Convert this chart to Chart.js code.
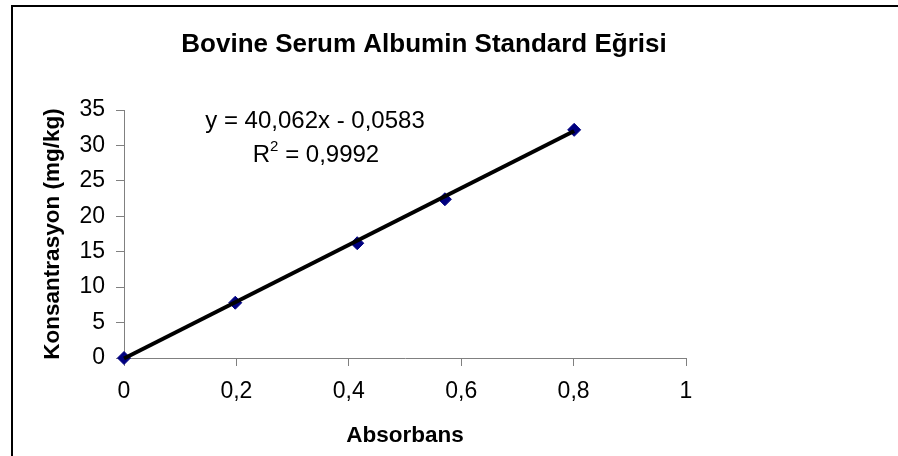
<!DOCTYPE html>
<html>
<head>
<meta charset="utf-8">
<script src="https://cdn.jsdelivr.net/npm/chart.js@4/dist/chart.umd.min.js"></script>
<style>
  html, body { margin: 0; padding: 0; background: #fff; }
  #wrap { width: 898px; height: 456px; }
</style>
</head>
<body>
<div id="wrap"><canvas id="myChart" width="898" height="456"></canvas></div>
<script>
// values
const absorbans = [0, 0.198, 0.415, 0.571, 0.801];
const konsantrasyon = [0, 7.8, 16.2, 22.4, 32.2];
// trendline end points (y = 40,062x - 0,0583)
const trendX = [0, 0.801];
const trendY = [-0.06, 32.03];
const xTickLabels = ['0', '0,2', '0,4', '0,6', '0,8', '1'];
const yTickLabels = ['0', '5', '10', '15', '20', '25', '30', '35'];

const FONT = '"Liberation Sans", Arial, sans-serif';

// frame, title and equation text
const extras = {
    id: 'extras',
    afterDraw(chart) {
        const c = chart.ctx;
        c.save();
        c.strokeStyle = '#000';
        c.lineWidth = 2;
        c.beginPath();
        c.moveTo(12, 456);
        c.lineTo(12, 6);
        c.lineTo(898, 6);
        c.stroke();

        c.fillStyle = '#000';
        c.textAlign = 'center';
        c.textBaseline = 'alphabetic';
        c.font = 'bold 26px ' + FONT;
        c.fillText('Bovine Serum Albumin Standard Eğrisi', 424, 52);

        c.font = '24px ' + FONT;
        c.fillText('y = 40,062x - 0,0583', 315, 128);

        // R² line with superscript
        const p1 = 'R', p2 = '2', p3 = ' = 0,9992';
        c.textAlign = 'left';
        const w1 = c.measureText(p1).width;
        const w3 = c.measureText(p3).width;
        c.font = '15px ' + FONT;
        const w2 = c.measureText(p2).width;
        let x = 316 - (w1 + w2 + w3) / 2;
        c.font = '24px ' + FONT;
        c.fillText(p1, x, 162);
        c.font = '15px ' + FONT;
        c.fillText(p2, x + w1, 151);
        c.font = '24px ' + FONT;
        c.fillText(p3, x + w1 + w2, 162);
        c.restore();
    }
};

const ctx = document.getElementById('myChart').getContext('2d');
const myChart = new Chart(ctx, {
    type: 'scatter',
    data: {
        datasets: [{
            label: 'Trend',
            type: 'line',
            data: trendX.map((v, i) => ({ x: v, y: trendY[i] })),
            borderColor: '#000',
            borderWidth: 4,
            pointRadius: 0,
            fill: false,
            clip: false,
            order: 0
        }, {
            label: 'Konsantrasyon',
            data: absorbans.map((v, i) => ({ x: v, y: konsantrasyon[i] })),
            pointStyle: 'rectRot',
            pointRadius: 6.5,
            backgroundColor: '#000080',
            borderColor: '#000080',
            borderWidth: 1,
            clip: false,
            order: 1
        }]
    },
    options: {
        responsive: false,
        animation: false,
        layout: { padding: { top: 110, right: 212, left: 0, bottom: 0 } },
        plugins: {
            legend: { display: false },
            tooltip: { enabled: false },
            title: { display: false }
        },
        scales: {
            x: {
                type: 'linear',
                min: 0,
                max: 1,
                afterFit: s => { s.height = 98; },
                afterBuildTicks: s => {
                    s.ticks = xTickLabels.map((t, i) => ({ value: i * 0.2 }));
                },
                ticks: {
                    color: '#000',
                    font: { family: FONT, size: 23 },
                    padding: 12,
                    maxRotation: 0,
                    callback: (v, i) => xTickLabels[i]
                },
                grid: { drawOnChartArea: false, drawTicks: true, tickLength: 8, color: '#808080' },
                border: { color: '#808080', width: 1 },
                title: {
                    display: true,
                    text: 'Absorbans',
                    color: '#000',
                    font: { family: FONT, size: 22.5, weight: 'bold' },
                    padding: { top: 0, bottom: 7 }
                }
            },
            y: {
                type: 'linear',
                min: 0,
                max: 35,
                afterFit: s => { s.width = 124; },
                afterBuildTicks: s => {
                    s.ticks = yTickLabels.map((t, i) => ({ value: i * 5 }));
                },
                ticks: {
                    color: '#000',
                    font: { family: FONT, size: 23 },
                    padding: 11,
                    callback: (v, i) => yTickLabels[i]
                },
                grid: { drawOnChartArea: false, drawTicks: true, tickLength: 8, color: '#808080' },
                border: { color: '#808080', width: 1 },
                title: {
                    display: true,
                    text: 'Konsantrasyon (mg/kg)',
                    color: '#000',
                    font: { family: FONT, size: 22.5, weight: 'bold' },
                    padding: { top: 39, bottom: 0 }
                }
            }
        }
    },
    plugins: [extras]
});
</script>
</body>
</html>
